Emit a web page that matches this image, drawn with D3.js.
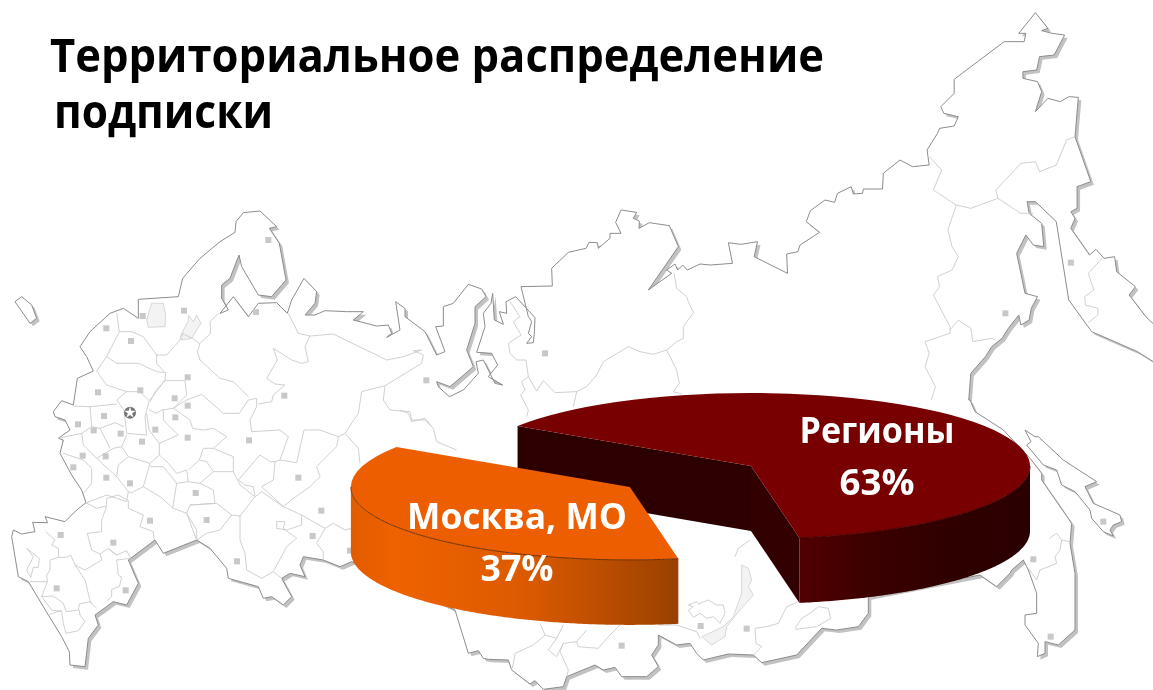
<!DOCTYPE html>
<html>
<head>
<meta charset="utf-8">
<script src="https://cdn.jsdelivr.net/npm/d3@7"></script>
<style>
  html, body { margin: 0; background: #fff; }
  svg { display: block; filter: blur(0.4px); }
  text { font-family: "Open Sans", "Noto Sans", sans-serif; font-weight: 700; }
</style>
</head>
<body>
<div id="chart"></div>
<script>
// Datos del gráfico
const categorias = ['Регионы', 'Москва, МО']
const valores = [63, 37]
const etiquetas = ['63%', '37%']

// Fondo: contorno del mapa, calcado de la imagen (cada bloque en coordenadas de su recorte)
const desdeOeste = ([x, y]) => [x / 3, y / 3 + 200]
const desdeSur = ([x, y]) => [x / 3, y / 3 + 480]
const desdeNorte = ([x, y]) => [x / 3 + 400, y / 3 + 190]
const desdeEste = ([x, y]) => [x / 2.4 + 500, y / 3]
const desdeSakhalin = ([x, y]) => [x / 3 + 920, y / 3 + 330]
const desdeBaikal = ([x, y]) => [x / 3 + 440, y / 3 + 530]

const costa = [].concat(
  [[160,635],[185,602],[220,615],[232,535],[280,513],[260,470],[240,440],[270,395],[330,340],[370,325],[415,355],[415,298],[535,290],[548,235],[600,175],[660,125],[705,97],[708,65],[730,38],[780,33],[830,80],[808,85],[838,130],[858,240],[815,290],[775,285],[725,200],[717,165],[690,235],[665,255],[665,295],[685,330],[660,340],[700,290],[745,350],[775,310],[830,308],[862,340],[875,300],[912,235],[950,275],[945,310],[915,345],[945,345],[975,332],[1040,335],[1090,335],[1060,360],[1130,378],[1165,375],[1175,400],[1160,412],[1200,390],[1187,305],[1215,325],[1215,350],[1275,395],[1310,465],[1335,455],[1307,380]].map(desdeOeste),
  [[130,408],[130,350],[160,340],[205,283],[245,297],[258,320],[225,350],[225,400],[200,480],[220,530],[150,590],[110,575],[115,590],[148,620],[190,600],[235,550],[228,515],[250,510],[285,580],[308,585],[265,560],[293,525],[275,490],[230,487],[255,410],[250,370],[273,340],[278,310],[283,390],[310,403],[298,365],[320,370],[318,335],[347,320],[405,383],[403,430],[400,458],[380,460],[395,440],[385,430],[395,395],[385,380],[363,290],[457,288],[455,235],[505,187],[558,175],[567,157],[592,158],[595,175],[630,145],[630,130],[663,130],[647,97],[663,60],[710,67],[700,85],[718,93],[717,115],[748,98],[808,107],[835,170],[745,300],[815,250],[800,240],[825,222],[833,240],[848,225],[862,240],[900,222]].map(desdeNorte),
  [[505,795],[558,790],[548,728],[578,733],[618,725],[610,770],[690,820],[688,762],[715,755],[720,735],[767,697],[735,665],[745,632],[780,600],[803,607],[810,580],[843,560],[848,582],[870,580],[872,567],[918,567],[920,520],[960,480],[990,500],[1030,495],[1025,450],[1050,400],[1055,385],[1090,378],[1100,350],[1065,340],[1058,320],[1090,280],[1090,238],[1210,125],[1258,125],[1262,100],[1245,100],[1285,38],[1315,85],[1300,92],[1325,100],[1355,105],[1330,165],[1295,170],[1288,210],[1255,215],[1255,235],[1290,245],[1300,275],[1285,335],[1315,295],[1345,305],[1365,290],[1388,292],[1380,410],[1418,545],[1385,560],[1385,625],[1370,635],[1380,655],[1370,685],[1415,765],[1430,748],[1450,775],[1475,770],[1480,815],[1525,860],[1510,885],[1550,950],[1600,1010],[1640,1130],[1568,1085],[1530,1055],[1420,995],[1365,900],[1335,665],[1285,605],[1265,605],[1270,640],[1300,670],[1305,740],[1280,735],[1262,705],[1240,760],[1260,880],[1290,890],[1275,925],[1270,960],[1250,975],[1245,945],[1220,985],[1205,1015],[1180,1040],[1165,1070],[1130,1120],[1125,1200]].map(desdeEste),
  [[150,210],[165,245],[250,300],[330,385],[365,430],[365,450],[455,580],[450,640],[465,730],[465,900],[415,945],[375,935],[375,970],[352,980],[355,940],[315,885],[315,855],[350,850],[350,790],[325,720],[310,690],[275,720],[270,730],[230,770],[180,735]].map(desdeSakhalin),
  [[1285,200],[1285,250],[1255,290],[1190,300],[1145,295],[1070,375],[965,398],[940,375],[865,372],[790,390],[770,370],[750,340],[710,345],[655,315],[655,345],[635,375],[655,410],[620,440],[545,440],[525,412],[490,420],[465,405],[380,440],[370,470],[310,478],[285,452],[270,462],[215,420],[205,390],[145,388],[130,385],[115,362],[85,370],[45,240]].map(desdeBaikal),
  [[1055,1085],[1020,1100],[970,1080],[910,1070],[900,1095],[915,1130],[870,1120],[845,1135],[875,1190],[850,1215],[815,1190],[790,1195],[775,1160],[685,1135],[680,1105],[630,1045],[590,1020],[490,1060],[465,1020],[385,1080],[415,1150],[380,1215],[340,1205]].map(desdeOeste),
  [[285,405],[295,435],[265,475],[255,560],[210,555],[208,515],[185,470],[145,405],[85,305],[55,290],[35,170],[40,150],[65,162],[105,155],[98,127],[143,128],[135,110],[195,125],[230,90],[258,68],[245,30]].map(desdeSur),
  [[215,825],[180,760],[190,720],[175,715],[210,690],[195,660],[165,650]].map(desdeOeste)
)

const islas = [
  [[45,305],[65,290],[95,315],[110,355],[90,370],[45,305]].map(desdeOeste),
  [[315,300],[345,320],[355,320],[430,390],[530,455],[495,470],[520,520],[600,555],[605,575],[580,585],[570,600],[580,618],[550,605],[515,565],[510,540],[465,485],[425,465],[410,420],[370,405],[345,375],[320,345],[333,335],[315,300]].map(desdeSakhalin)
]

const lagos = [
  [[455,310],[490,310],[497,345],[495,380],[445,382],[440,360],[455,310]].map(desdeOeste),
  [[565,345],[580,365],[590,345],[603,370],[575,415],[545,420],[548,395],[565,362],[565,345]].map(desdeOeste),
  [[905,105],[925,115],[935,150],[925,170],[940,195],[900,240],[860,290],[855,320],[815,345],[785,320],[850,290],[880,260],[905,190],[905,105]].map(desdeBaikal)
]

const limites = [].concat(
  [
    [[350,340],[358,395],[320,470],[290,513]],
    [[358,395],[395,395],[430,410],[470,465],[500,465],[540,420],[545,400]],
    [[470,465],[470,490],[497,520],[495,540],[450,600]],
    [[320,470],[350,490],[415,490],[470,515],[497,518]],
    [[290,513],[320,555],[350,565],[380,575],[420,575],[450,605],[465,575],[495,542],[555,542],[560,585],[520,625],[560,600],[605,583],[670,640],[718,640],[745,600],[770,595],[770,620],[750,660],[755,695],[840,690],[865,710],[840,780],[890,788],[912,690],[960,690],[1015,710],[1035,700],[1075,640],[1085,575],[1155,557],[1265,490],[1270,465],[1240,452],[1265,450]],
    [[655,340],[630,365],[632,400],[600,430]],
    [[545,400],[578,415],[600,432],[592,455],[600,480],[660,535],[700,545],[745,590]],
    [[865,340],[895,400],[930,408],[915,440],[925,485],[905,490],[875,480],[820,445],[832,480],[800,535],[825,552],[855,555],[820,585],[815,605],[775,612]],
    [[930,408],[1000,402],[1160,480],[1210,470],[1265,450]],
    [[1155,557],[1150,600],[1170,630],[1230,635],[1235,660],[1275,660],[1300,685],[1310,725],[1370,750]],
    [[1035,700],[1075,745],[1080,790]],
    [[350,600],[380,575]],
    [[350,600],[372,630],[380,700],[440,705],[435,650],[447,605]],
    [[447,630],[470,640],[485,630],[520,625],[570,660],[578,685],[610,690],[640,685],[680,710],[640,745],[700,770],[700,815],[640,815],[600,850],[565,845],[560,810],[530,820],[505,790],[478,765],[478,730],[535,705],[490,660],[490,630]],
    [[440,640],[447,690],[478,730]],
    [[220,618],[270,620],[350,612]],
    [[270,620],[275,680],[245,700],[250,735],[290,775],[340,745],[365,740],[380,705]],
    [[275,680],[300,685],[345,668],[372,680]],
    [[300,685],[330,745]],
    [[175,715],[245,700]],
    [[190,760],[250,780],[275,805],[275,850],[250,880]],
    [[290,775],[350,830],[385,875],[380,905],[320,885],[260,908]],
    [[365,740],[385,770],[355,795],[350,830]],
    [[385,770],[450,790],[478,765]],
    [[450,790],[430,860],[395,878],[385,875]],
    [[430,860],[480,890],[520,925],[560,940],[590,1020]],
    [[450,800],[490,800],[530,850],[518,925]],
    [[565,845],[530,850]],
    [[600,850],[640,870],[645,910],[570,915],[560,940],[590,990],[590,1020]],
    [[570,915],[650,910],[695,945],[660,990],[620,1000],[590,1020]],
    [[695,945],[720,948],[765,890],[785,875],[850,920],[905,945],[975,985],[950,1030],[970,1055],[970,1080]],
    [[700,815],[720,855],[765,890],[760,860],[735,855],[715,840],[780,765],[810,785],[825,785],[840,780]],
    [[825,785],[820,840],[785,860],[850,920],[880,895],[930,860],[960,830],[950,800],[1010,740],[1015,710]],
    [[720,948],[720,1020],[735,1060],[740,1110],[785,1135],[820,1115],[845,1135]],
    [[905,945],[905,975],[860,990],[830,985],[830,965],[855,965],[850,985],[890,1015],[860,1040],[820,1115]],
    [[975,985],[1000,970],[1035,990],[1055,985]],
    [[640,745],[610,745],[598,780],[565,810]],
    [[598,780],[620,785],[640,815]]
  ].map(l => l.map(desdeOeste)),
  [
    [[320,78],[305,120],[305,155],[262,160],[275,210],[300,222],[305,240],[255,270],[225,255],[212,225],[200,232],[175,232],[150,240],[150,270],[140,285],[142,305],[90,305]],
    [[137,155],[165,180],[155,195],[175,205],[175,232]],
    [[225,255],[255,300],[272,370]],
    [[330,210],[350,225],[380,212],[392,235],[350,240],[355,285],[365,292],[358,320],[335,328],[335,350],[322,362]],
    [[300,222],[325,205],[350,225]],
    [[142,305],[125,350],[160,348],[190,370],[198,395],[235,390],[238,372],[270,365],[290,385]],
    [[125,350],[155,390],[185,395],[190,430],[198,460],[235,452],[255,425],[240,405],[238,390]],
    [[145,405],[185,390]],
    [[80,205],[118,235],[115,262],[100,262],[92,292],[80,270],[100,230],[80,205]],
    [[258,68],[290,85],[320,78],[320,55],[355,45],[385,62],[385,85],[430,105],[420,140],[460,155],[462,180]]
  ].map(l => l.map(desdeSur)),
  [
    [[330,335],[360,380],[340,395],[363,435],[325,460],[330,490],[350,510],[378,510],[385,560],[365,575],[375,600],[362,615],[385,660],[380,680]],
    [[385,560],[410,603],[430,572],[465,608],[530,605],[520,650]],
    [[530,605],[560,590],[590,555],[610,515],[685,470],[720,485],[760,493],[800,480],[830,540],[838,580],[820,605],[845,612]],
    [[800,480],[830,455],[850,445],[850,410],[880,368],[865,335],[860,320],[830,295],[822,250]],
    [[0,660],[25,670],[35,695],[75,685],[95,710]]
  ].map(l => l.map(desdeNorte)),
  [
    [[1030,470],[1060,510],[1040,570],[1095,615],[1130,625],[1195,595],[1190,570],[1250,490],[1285,485],[1295,515],[1335,495],[1360,420],[1380,410]],
    [[1095,615],[1075,690],[1085,740],[1100,770],[1085,810],[1050,830],[1055,860],[1040,885],[1080,980],[1080,1000],[1020,1025],[1030,1060],[1020,1100],[1045,1160],[1035,1200]],
    [[1080,990],[1100,960],[1130,985],[1135,1025],[1180,1015],[1190,1020]],
    [[1195,595],[1250,640],[1280,640]],
    [[1445,775],[1412,820],[1425,870],[1403,890],[1405,915],[1435,925],[1435,945],[1412,968]]
  ].map(l => l.map(desdeEste)),
  [
    [[388,625],[410,610],[425,630],[448,635]],
    [[425,630],[420,660],[405,680],[410,700],[360,720],[350,750],[325,715]]
  ].map(l => l.map(desdeSakhalin)),
  [
    [[745,225],[770,215],[775,222],[805,210],[830,225],[850,225],[855,250],[840,280],[820,260],[800,265],[780,250],[760,262],[745,240],[760,230],[745,225]],
    [[1075,215],[1040,230],[1015,280],[980,290],[945,295],[948,340],[965,350],[940,375]],
    [[1065,295],[1085,265],[1110,250],[1135,230],[1165,235],[1172,265],[1130,290],[1065,298]],
    [[885,80],[895,55],[930,30]],
    [[655,285],[710,285],[770,305],[780,325]],
    [[300,280],[315,315],[350,325],[370,285]],
    [[315,315],[280,345],[225,370],[220,400],[215,420]],
    [[350,325],[325,360],[350,380],[370,340],[410,335],[440,300]],
    [[410,335],[415,350],[475,355],[510,315],[540,285]],
    [[370,340],[360,365],[385,420],[380,440]]
  ].map(l => l.map(desdeBaikal))
)

const ciudades = [].concat(
  [[805,120],[768,336],[428,348],[552,332],[319,385],[393,423],[563,532],[421,571],[294,577],[524,595],[563,617],[312,648],[526,652],[234,673],[281,691],[362,701],[466,689],[563,713],[747,721],[426,725],[248,767],[317,769],[220,802],[319,833],[895,833],[390,850],[587,879],[964,932],[620,960],[450,962],[182,1005],[340,1028],[938,1008],[711,1084],[377,1171],[170,1165],[853,587],[1279,541],[1050,1052]].map(desdeOeste),
  [[435,490]].map(desdeNorte),
  [[1370,788],[1213,940]].map(desdeEste),
  [[545,347],[782,288],[920,296]].map(desdeBaikal),
  [[340,688],[392,920],[550,575]].map(desdeSakhalin)
)
const moscu = desdeOeste([390, 638])

// Configuración del gráfico
var width = 1153
var height = 690
var rx = 279
var ry = 73
var depth = 65
var centro = [751, 466]
var explosion = 0.52
var rad = Math.PI / 180

var svg = d3.select('#chart').append('svg')
  .attr('width', width)
  .attr('height', height)

var defs = svg.append('defs')
var gradNaranja = defs.append('linearGradient').attr('id', 'muroNaranja')
  .attr('gradientUnits', 'userSpaceOnUse')
  .attr('x1', 351).attr('x2', 681).attr('y1', 0).attr('y2', 0)
gradNaranja.selectAll('stop')
  .data([[0, '#e25c00'], [0.14, '#ee6200'], [0.5, '#de5b00'], [0.7, '#c45100'], [1, '#984000']])
  .join('stop').attr('offset', d => d[0]).attr('stop-color', d => d[1])
var gradRojo = defs.append('linearGradient').attr('id', 'muroRojo')
  .attr('gradientUnits', 'userSpaceOnUse')
  .attr('x1', 800).attr('x2', 1030).attr('y1', 0).attr('y2', 0)
gradRojo.selectAll('stop')
  .data([[0, '#520000'], [0.3, '#3c0000'], [0.65, '#2e0000'], [1, '#2b0000']])
  .join('stop').attr('offset', d => d[0]).attr('stop-color', d => d[1])

// Mapa de fondo
var linea = d3.line()
var mapa = svg.append('g')

mapa.selectAll('path.sombra')
  .data([costa, ...islas])
  .join('path').attr('class', 'sombra')
  .attr('d', d => linea(d) + 'Z')
  .attr('transform', 'translate(3,3)')
  .attr('fill', '#c2c2c2')

mapa.selectAll('path.tierra')
  .data([costa, ...islas])
  .join('path').attr('class', 'tierra')
  .attr('d', d => linea(d) + 'Z')
  .attr('fill', '#fff')
  .attr('stroke', '#8c8c8c')
  .attr('stroke-width', 1)

mapa.selectAll('path.lago')
  .data(lagos)
  .join('path').attr('class', 'lago')
  .attr('d', linea)
  .attr('fill', '#f3f3f3')
  .attr('stroke', '#cfcfcf')
  .attr('stroke-width', 0.8)

mapa.selectAll('path.limite')
  .data(limites)
  .join('path').attr('class', 'limite')
  .attr('d', linea)
  .attr('fill', 'none')
  .attr('stroke', '#cbcbcb')
  .attr('stroke-width', 0.9)

mapa.selectAll('rect')
  .data(ciudades)
  .join('rect')
  .attr('x', d => d[0] - 3)
  .attr('y', d => d[1] - 3)
  .attr('width', 6)
  .attr('height', 6)
  .attr('fill', '#c8c8c8')

mapa.append('circle')
  .attr('cx', moscu[0]).attr('cy', moscu[1]).attr('r', 6)
  .attr('fill', '#757575')
mapa.append('path')
  .attr('d', d3.symbol(d3.symbolStar, 40))
  .attr('transform', `translate(${moscu[0]},${moscu[1]})`)
  .attr('fill', '#fff')

// Título
var titulo = [
  { txt: 'Территориальное распределение', x: 50, y: 72, len: 774 },
  { txt: 'подписки', x: 54, y: 128, len: 219 }
]
svg.selectAll('text.titulo')
  .data(titulo)
  .join('text').attr('class', 'titulo')
  .attr('x', d => d.x)
  .attr('y', d => d.y)
  .attr('textLength', d => d.len)
  .attr('lengthAdjust', 'spacingAndGlyphs')
  .attr('font-size', 46)
  .attr('fill', '#000')
  .text(d => d.txt)

// Torta 3D: los ángulos salen de d3.pie, y se aplastan en y
var inicio = -56.8 * rad
var pie = d3.pie().sort(null).startAngle(inicio).endAngle(inicio + 2 * Math.PI)
var arcos = pie(valores)
var arc = d3.arc().innerRadius(0).outerRadius(rx)

var colores = [
  { tapa: '#780000', muro: 'url(#muroRojo)', borde: '#4a0000' },
  { tapa: '#ec5e00', muro: 'url(#muroNaranja)', borde: '#6e2e00' }
]

function centroDe(d, i) {
  if (i === 0) return centro
  var m = (d.startAngle + d.endAngle) / 2
  return [centro[0] + Math.sin(m) * explosion * rx, centro[1] - Math.cos(m) * explosion * ry]
}
function punto(c, a) {
  return [c[0] + Math.sin(a) * rx, c[1] - Math.cos(a) * ry]
}
function arcoPuntos(c, a0, a1) {
  var pts = d3.range(a0, a1, 0.01).map(a => punto(c, a))
  pts.push(punto(c, a1))
  return pts
}
function bajar(p) { return [p[0], p[1] + depth] }

arcos.forEach(function (d, i) {
  var c = centroDe(d, i)
  var g = svg.append('g')
  var col = colores[i]

  // caras del corte
  if (Math.sin(d.startAngle) < 0) {
    var p = punto(c, d.startAngle)
    g.append('path').attr('d', linea([p, c, bajar(c), bajar(p)]) + 'Z').attr('fill', '#2c0000')
  }
  if (Math.sin(d.endAngle) > 0) {
    var q = punto(c, d.endAngle)
    g.append('path').attr('d', linea([c, q, bajar(q), bajar(c)]) + 'Z').attr('fill', '#320000')
  }

  // muro exterior visible
  var a0 = Math.max(d.startAngle, Math.PI / 2)
  var a1 = Math.min(d.endAngle, 3 * Math.PI / 2)
  var arriba = arcoPuntos(c, a0, a1)
  g.append('path')
    .attr('d', linea(arriba.concat(arriba.map(bajar).reverse())) + 'Z')
    .attr('fill', col.muro)

  // tapa
  g.append('path')
    .attr('d', arc(d))
    .attr('transform', `translate(${c[0]},${c[1]}) scale(1,${ry / rx})`)
    .attr('fill', col.tapa)

  // borde delantero de la tapa
  g.append('path')
    .attr('d', linea(arriba))
    .attr('fill', 'none')
    .attr('stroke', col.borde)
    .attr('stroke-width', 1)
})

// Etiquetas
var posiciones = [
  { x: 877, y1: 443, y2: 495, len1: 155, len2: 75 },
  { x: 517, y1: 529, y2: 581, len1: 220, len2: 73 }
]
categorias.forEach(function (cat, i) {
  var p = posiciones[i]
  svg.append('text')
    .attr('x', p.x).attr('y', p.y1)
    .attr('text-anchor', 'middle')
    .attr('textLength', p.len1).attr('lengthAdjust', 'spacingAndGlyphs')
    .attr('font-size', 36).attr('fill', '#fff')
    .text(cat)
  svg.append('text')
    .attr('x', p.x).attr('y', p.y2)
    .attr('text-anchor', 'middle')
    .attr('textLength', p.len2).attr('lengthAdjust', 'spacingAndGlyphs')
    .attr('font-size', 36).attr('fill', '#fff')
    .text(etiquetas[i])
})
</script>
</body>
</html>
